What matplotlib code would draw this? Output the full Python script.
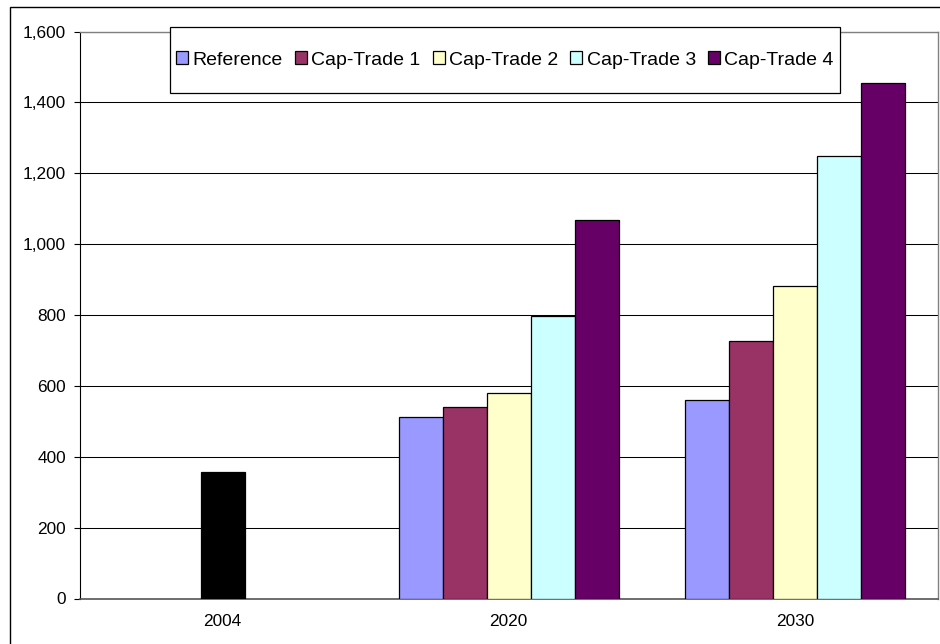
import numpy as np
import matplotlib
matplotlib.use("Agg")
import matplotlib.pyplot as plt
from matplotlib.patches import Rectangle

plt.rcParams['font.family'] = ['Liberation Sans', 'DejaVu Sans']

# categories and series values
years = ['2004', '2020', '2030']
series_names = ['Reference', 'Cap-Trade 1', 'Cap-Trade 2', 'Cap-Trade 3', 'Cap-Trade 4']
reference = [np.nan, 513, 559]
cap_trade_1 = [np.nan, 541, 727]
cap_trade_2 = [np.nan, 581, 882]
cap_trade_3 = [np.nan, 797, 1250]
cap_trade_4 = [np.nan, 1067, 1455]
value_2004 = 358

colors = ['#9999FF', '#993366', '#FFFFCC', '#CCFFFF', '#660066']
yticks = [0, 200, 400, 600, 800, 1000, 1200, 1400, 1600]

W, H = 940, 644
fig = plt.figure(figsize=(W / 100, H / 100), dpi=100)
ax = fig.add_axes([79.5 / W, 1 - 598.5 / H, (938 - 79.5) / W, (598.5 - 31.5) / H])

x = np.arange(len(years))
width = 1 / 6.5
all_series = [reference, cap_trade_1, cap_trade_2, cap_trade_3, cap_trade_4]
for i, (vals, name, c) in enumerate(zip(all_series, series_names, colors)):
    ax.bar(x + (i - 2) * width, vals, width, color=c, edgecolor='black',
           linewidth=0.9, label=name, zorder=3)

# the 2004 base year value sits in the middle slot, in black
ax.bar(x[0], value_2004, width, color='black', edgecolor='black', linewidth=0.9, zorder=3)

ax.set_xlim(-0.5, 2.5)
ax.set_ylim(0, 1600)
ax.set_yticks(yticks)
ax.set_yticklabels([f'{v:,}' for v in yticks])
ax.set_xticks(x)
ax.set_xticklabels(years)
ax.tick_params(axis='y', length=4.3, width=0.8, pad=5.5, labelsize=12.4, color='black')
ax.tick_params(axis='x', length=0, pad=11.3, labelsize=12.4)

ax.yaxis.grid(True, color='black', linewidth=0.75, zorder=0)
ax.set_axisbelow(True)

ax.spines['left'].set_color('black')
ax.spines['left'].set_linewidth(0.8)
ax.spines['bottom'].set_color('#555555')
ax.spines['bottom'].set_linewidth(1.2)
for s in ['top', 'right']:
    ax.spines[s].set_color('#808080')
    ax.spines[s].set_linewidth(1.0)

# legend box
fig.patches.append(Rectangle((169.5 / W, 1 - 92.5 / H), (840 - 169.5) / W, (92.5 - 27.5) / H,
                             transform=fig.transFigure, facecolor='white',
                             edgecolor='black', linewidth=0.9, zorder=5))
leg = fig.legend(loc='center', bbox_to_anchor=(505 / W, 1 - 60 / H), ncol=5,
                 frameon=False, fontsize=14, handlelength=0.62, handleheight=0.62,
                 handletextpad=0.22, columnspacing=0.62, borderpad=0)
leg.set_zorder(6)
for h in leg.legend_handles:
    h.set_linewidth(0.9)

# outer chart frame (left and top edges visible)
fig.patches.append(Rectangle((9.5 / W, -0.05), 1.1, 1.05 - 7 / H,
                             transform=fig.transFigure, facecolor='none',
                             edgecolor='black', linewidth=1.0))

fig.savefig('out.png', dpi=100)
